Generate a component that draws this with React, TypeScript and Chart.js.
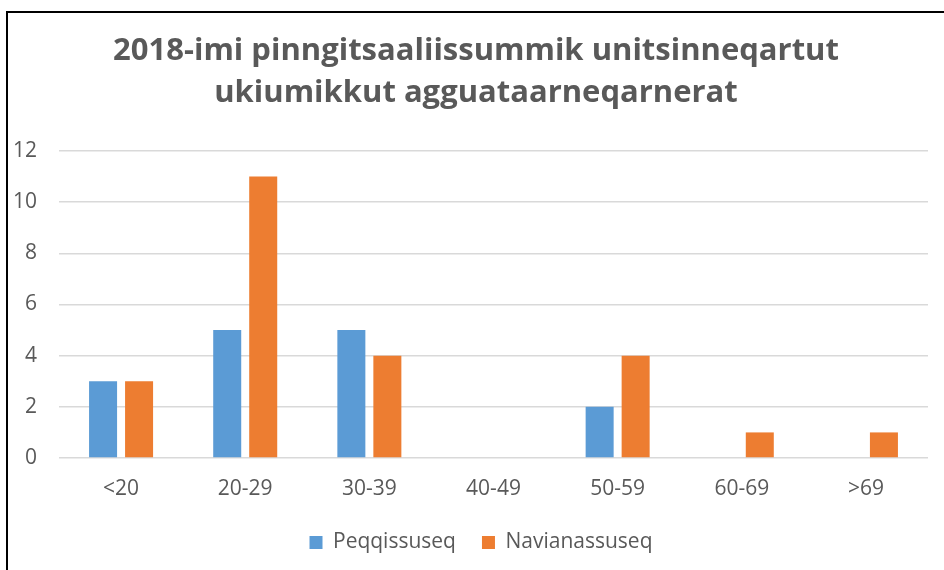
import React, { useEffect, useRef } from "react";
import { Chart, registerables } from "chart.js";

Chart.register(...registerables);

const categories = ["<20", "20-29", "30-39", "40-49", "50-59", "60-69", ">69"];
const peqqissuseq = [3, 5, 5, 0, 2, 0, 0];
const navianassuseq = [3, 11, 4, 0, 4, 1, 1];
const titleLines = ["2018-imi pinngitsaaliissummik unitsinneqartut", "ukiumikkut agguataarneqarnerat"];
const seriesNames = ["Peqqissuseq", "Navianassuseq"];

const FONT = '"Open Sans", sans-serif';
const GRAY = "#595959";

const boxShift = {
  id: "boxShift",
  afterLayout(chart: any) {
    const lg = chart.legend;
    if (lg) {
      lg.left += 17;
      lg.right += 17;
    }
    const t = chart.titleBlock;
    if (t) {
      t.left += 12;
      t.right += 12;
    }
  },
};

export default function App() {
  const ref = useRef<HTMLCanvasElement | null>(null);
  useEffect(() => {
    if (!ref.current) return;
    const chart = new Chart(ref.current, {
      type: "bar",
      data: {
        labels: categories,
        datasets: [
          {
            label: seriesNames[0],
            data: peqqissuseq,
            backgroundColor: "#5B9BD5",
            categoryPercentage: 0.58,
            barPercentage: 0.778,
          },
          {
            label: seriesNames[1],
            data: navianassuseq,
            backgroundColor: "#ED7D31",
            categoryPercentage: 0.58,
            barPercentage: 0.778,
          },
        ],
      },
      plugins: [boxShift],
      options: {
        responsive: false,
        animation: false,
        devicePixelRatio: 1,
        layout: { padding: { left: 0, right: 16, top: 0, bottom: 7 } },
        plugins: {
          tooltip: { enabled: false },
          title: {
            display: true,
            text: titleLines,
            color: GRAY,
            font: { family: FONT, size: 31, weight: "bold", lineHeight: 42 / 31 },
            padding: { top: 30, bottom: 37 },
          },
          legend: {
            position: "bottom",
            labels: {
              color: GRAY,
              font: { family: FONT, size: 21 },
              boxWidth: 13,
              boxHeight: 13,
              padding: 26,
            },
          },
        },
        scales: {
          x: {
            grid: { display: false },
            border: { display: false },
            afterFit: (s: any) => {
              s.height = 48;
            },
            ticks: { color: GRAY, font: { family: FONT, size: 21 }, padding: 10 },
          },
          y: {
            min: 0,
            max: 12,
            afterFit: (s: any) => {
              s.width = 59;
            },
            ticks: { stepSize: 2, color: GRAY, font: { family: FONT, size: 21 }, padding: 22 },
            grid: { color: "#D9D9D9", lineWidth: 1.5, drawTicks: false },
            border: { display: false },
          },
        },
      },
    });
    return () => chart.destroy();
  }, []);
  return (
    <div style={{ position: "absolute", left: 0, top: 0, width: 944, height: 570, background: "#fff" }}>
      <canvas ref={ref} width={944} height={570} style={{ display: "block", width: 944, height: 570 }} />
      <div
        style={{
          position: "absolute",
          left: 6,
          top: 11,
          right: 0,
          bottom: 0,
          borderTop: "2px solid #000",
          borderLeft: "2px solid #000",
          pointerEvents: "none",
        }}
      />
    </div>
  );
}
